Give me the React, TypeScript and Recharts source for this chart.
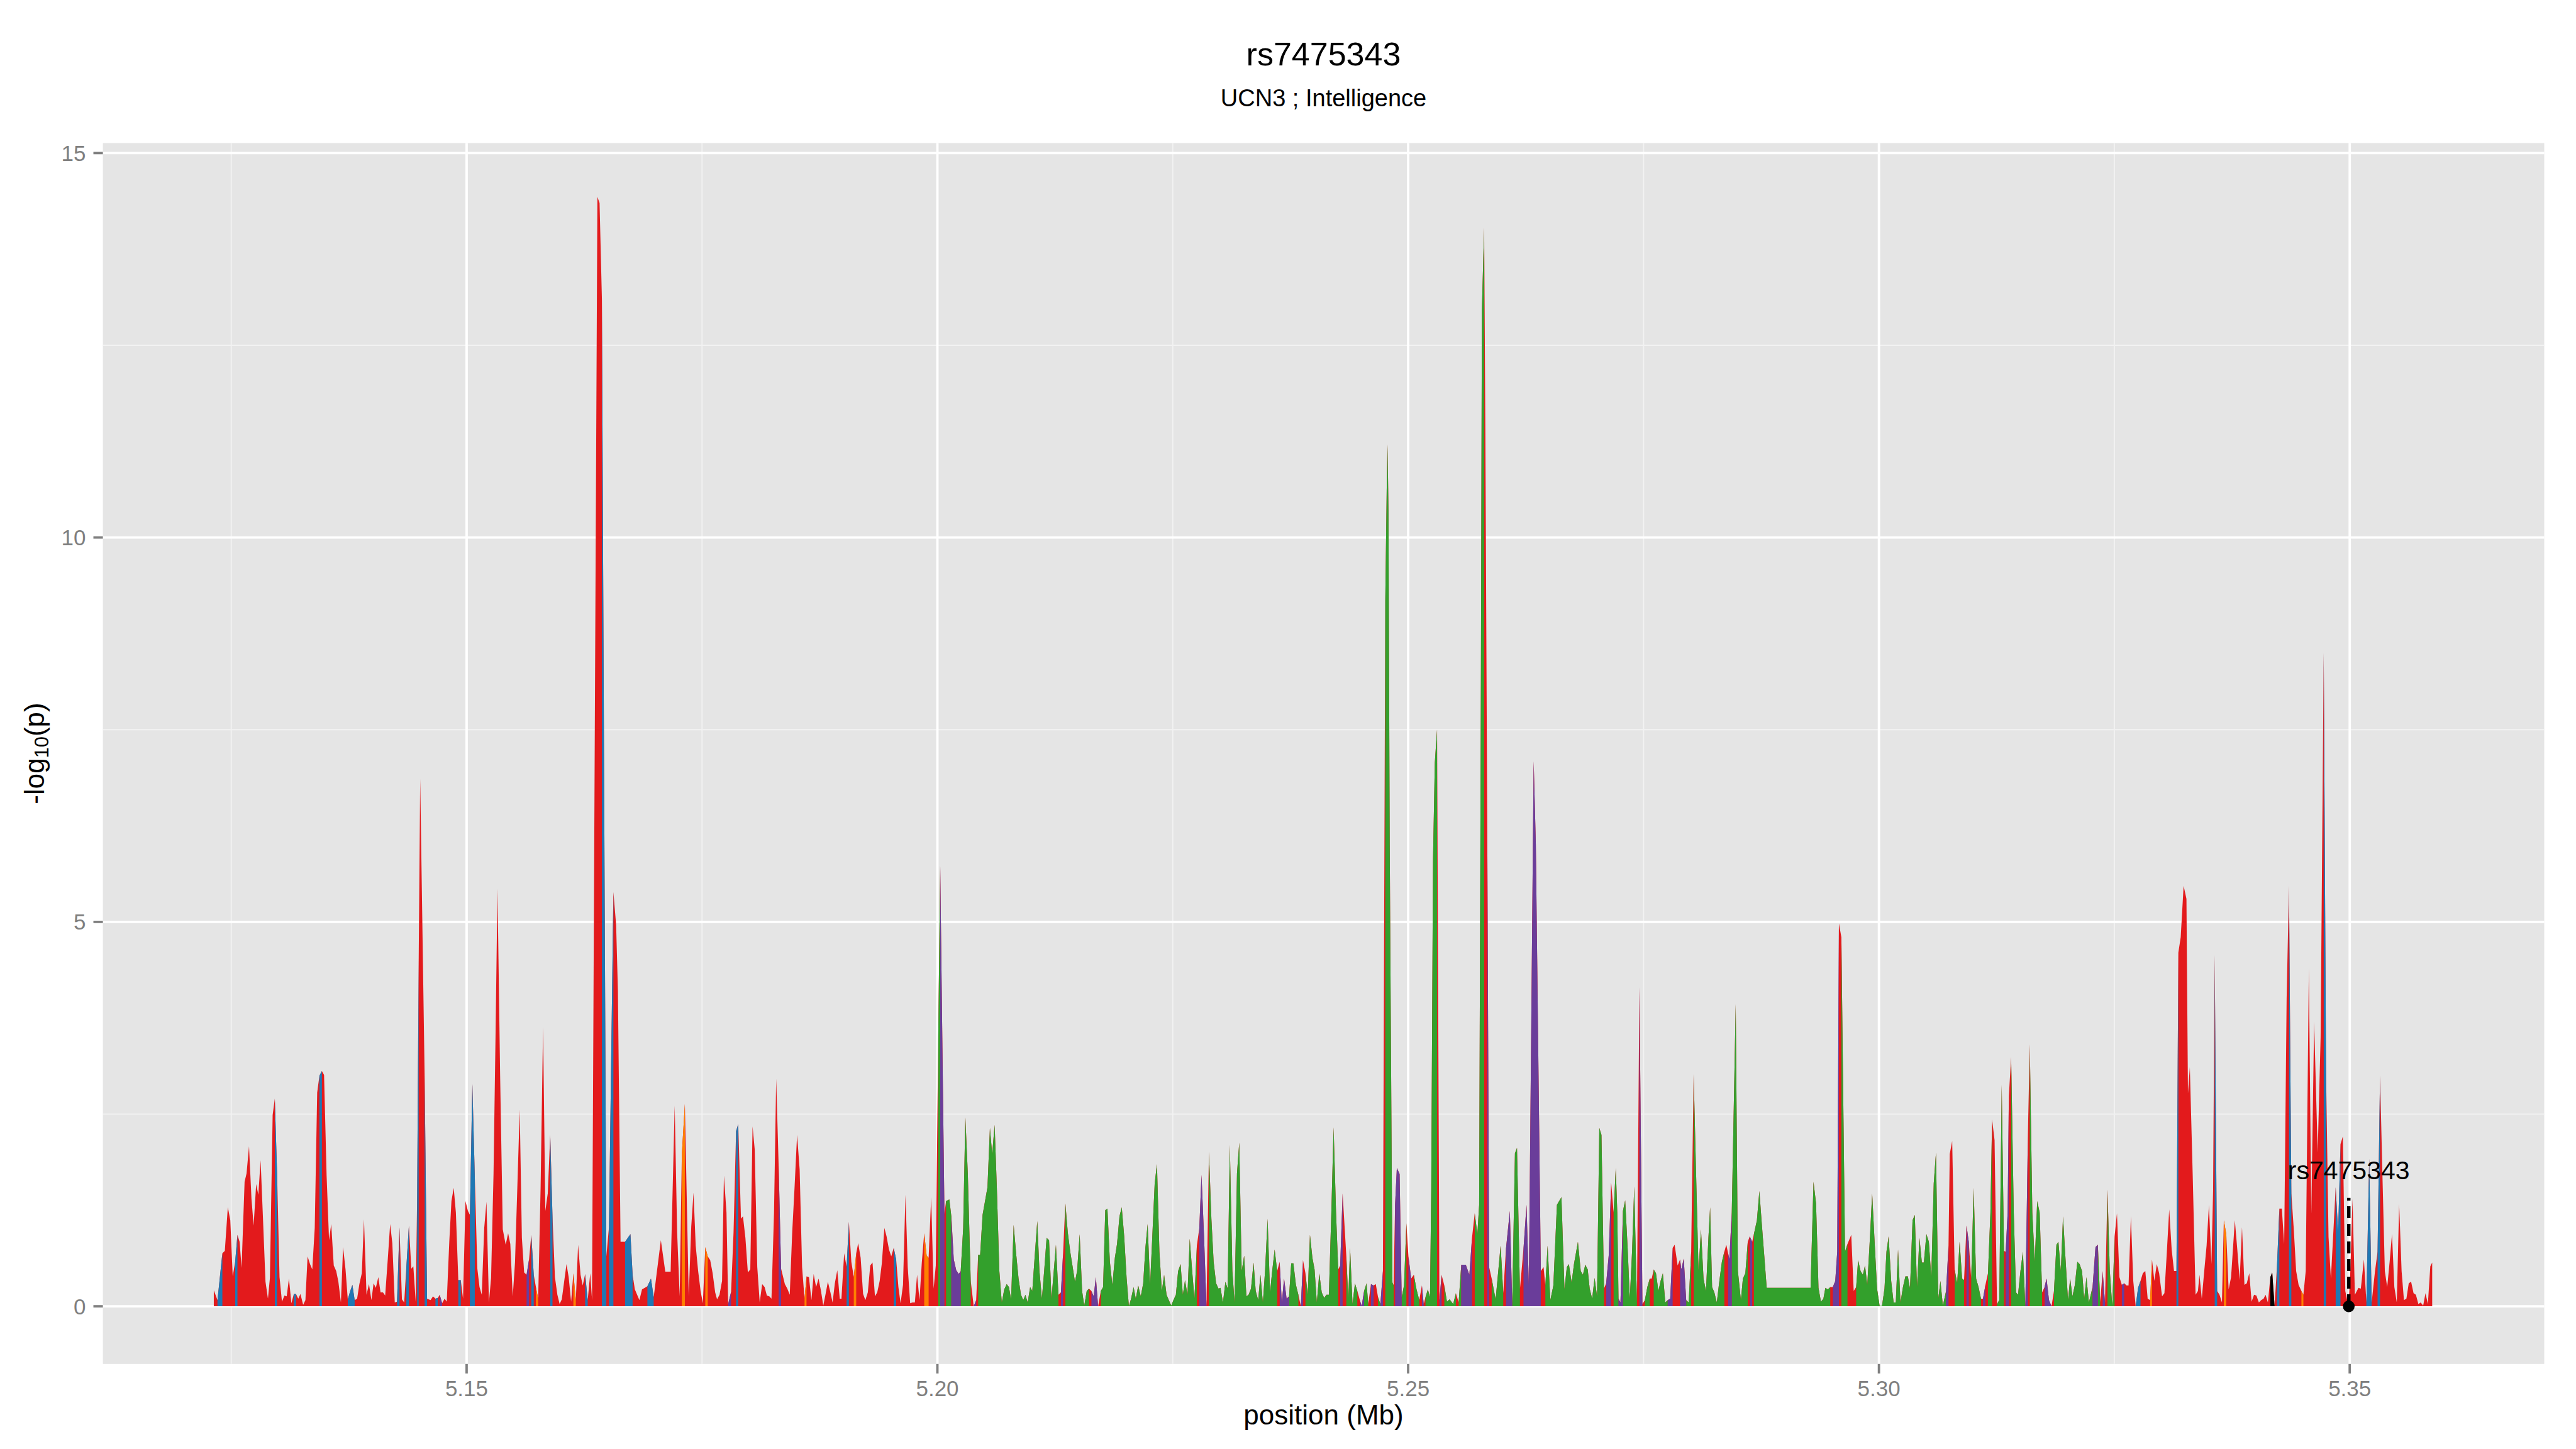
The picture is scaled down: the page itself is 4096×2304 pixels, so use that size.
import React from 'react';
import { ComposedChart, Area, XAxis, YAxis, CartesianGrid, Scatter, ReferenceLine } from 'recharts';

// [position (Mb), -log10(p), LD class]
type Snp = [number, number, string];

const snps5123to5163: Snp[] = [
[5.12315,0.21,'R'],[5.12354,0.08,'B'],[5.12406,0.69,'R'],[5.12432,0.72,'R'],[5.12464,1.29,'R'],[5.1249,1.12,'R'],[5.12516,0.39,'R'],[5.12542,0.58,'B'],[5.12566,0.93,'R'],[5.12589,0.84,'R'],
[5.1261,0.5,'R'],[5.12642,1.62,'R'],[5.12663,1.73,'R'],[5.12689,2.08,'R'],[5.12715,1.4,'R'],[5.12738,1.05,'R'],[5.12765,1.59,'R'],[5.12788,1.45,'R'],[5.12812,1.9,'R'],[5.12838,1.12,'R'],
[5.12864,0.32,'R'],[5.1289,0.1,'R'],[5.12911,0.37,'R'],[5.1294,2.49,'R'],[5.12963,2.7,'B'],[5.12987,1.73,'R'],[5.13013,0.38,'R'],[5.13039,0.06,'R'],[5.13065,0.14,'R'],[5.13089,0.13,'R'],
[5.13113,0.36,'R'],[5.13139,0.04,'R'],[5.13165,0.16,'B'],[5.13188,0.16,'R'],[5.13212,0.1,'R'],[5.13235,0.16,'R'],[5.13264,0.02,'R'],[5.13288,0.08,'R'],[5.13311,0.65,'R'],[5.13337,0.55,'R'],
[5.13361,0.48,'R'],[5.13387,1.02,'R'],[5.13413,2.78,'R'],[5.13437,3.0,'B'],[5.13463,3.06,'R'],[5.13486,3.01,'R'],[5.13513,1.7,'R'],[5.13539,0.86,'R'],[5.13562,1.07,'R'],[5.13589,0.53,'R'],
[5.13615,0.46,'R'],[5.13638,0.32,'R'],[5.13665,0.05,'R'],[5.13688,0.77,'R'],[5.13714,0.48,'R'],[5.13738,0.09,'B'],[5.13764,0.2,'B'],[5.13787,0.28,'B'],[5.13811,0.08,'R'],[5.13837,0.1,'R'],
[5.13861,0.29,'R'],[5.13887,0.43,'R'],[5.1391,1.13,'R'],[5.13937,0.15,'R'],[5.13963,0.29,'R'],[5.13989,0.08,'R'],[5.14012,0.3,'R'],[5.14036,0.24,'R'],[5.14062,0.38,'R'],[5.14086,0.18,'R'],
[5.14112,0.18,'R'],[5.14135,0.14,'R'],[5.14162,0.6,'R'],[5.14188,1.07,'R'],[5.14211,0.82,'R'],[5.14237,0.05,'R'],[5.14261,0.06,'B'],[5.14287,1.03,'R'],[5.14313,0.09,'R'],[5.14337,0.05,'R'],
[5.1436,0.51,'B'],[5.14387,1.05,'R'],[5.14413,0.49,'R'],[5.14434,0.52,'R'],[5.1446,0.05,'R'],[5.14475,1.47,'B'],[5.14491,4.5,'R'],[5.14507,6.86,'R'],[5.14554,3.0,'B'],[5.1458,0.1,'R'],
[5.14617,0.08,'R'],[5.14643,0.13,'R'],[5.14669,0.1,'B'],[5.14695,0.11,'R'],[5.14714,0.15,'P'],[5.1474,0.04,'R'],[5.14766,0.1,'R'],[5.14789,0.06,'R'],[5.14816,0.84,'R'],[5.14839,1.37,'R'],
[5.14863,1.54,'R'],[5.14886,1.22,'R'],[5.14912,0.34,'B'],[5.14938,0.34,'R'],[5.14962,0.1,'R'],[5.14988,1.37,'R'],[5.15014,1.24,'R'],[5.15035,1.19,'B'],[5.15061,2.89,'B'],[5.15087,1.68,'R'],
[5.15114,0.49,'R'],[5.15137,0.25,'R'],[5.15161,0.15,'R'],[5.15187,1.02,'R'],[5.15211,1.36,'R'],[5.15237,0.05,'R'],[5.1526,0.37,'R'],[5.15286,1.73,'R'],[5.15307,3.5,'R'],[5.15328,5.43,'R'],
[5.15356,3.0,'R'],[5.15384,1.0,'R'],[5.15415,0.8,'R'],[5.15441,0.95,'R'],[5.15464,0.81,'R'],[5.1549,0.13,'R'],[5.15514,0.57,'R'],[5.15538,1.52,'R'],[5.15564,2.56,'R'],[5.15587,0.89,'R'],
[5.15611,0.44,'R'],[5.15637,0.41,'P'],[5.15663,0.61,'R'],[5.15687,0.93,'B'],[5.15713,0.41,'R'],[5.15736,0.25,'O'],[5.1576,0.1,'R'],[5.15786,1.55,'R'],[5.15812,3.63,'R'],[5.15836,1.24,'R'],
[5.15862,1.47,'R'],[5.15888,2.23,'B'],[5.15912,1.17,'R'],[5.15938,0.38,'R'],[5.15964,0.15,'R'],[5.15988,0.03,'R'],[5.16011,0.09,'R'],[5.16037,0.33,'R'],[5.16061,0.55,'R'],[5.16084,0.38,'R'],
[5.1611,0.06,'R'],[5.16134,0.43,'O'],[5.1616,0.08,'R'],[5.16184,0.8,'R'],[5.1621,0.41,'R'],[5.16233,0.27,'R'],[5.16259,0.42,'B'],[5.16286,0.08,'R'],
];

const snps5163to5204: Snp[] = [
[5.16313,0.43,'R'],[5.16332,0.08,'R'],[5.16389,14.43,'R'],[5.16412,14.35,'R'],[5.16437,13.1,'B'],[5.16484,0.65,'R'],[5.16512,1.03,'B'],[5.16559,5.39,'R'],[5.16588,4.96,'R'],[5.16607,4.1,'R'],
[5.16635,0.84,'R'],[5.16683,0.84,'B'],[5.1674,0.94,'B'],[5.16763,0.41,'R'],[5.16787,0.22,'R'],[5.16835,0.08,'R'],[5.16863,0.22,'R'],[5.1692,0.26,'B'],[5.16958,0.36,'B'],[5.16987,0.12,'R'],
[5.17063,0.86,'R'],[5.1711,0.45,'R'],[5.17167,0.45,'R'],[5.1721,2.61,'R'],[5.17236,0.96,'R'],[5.17263,0.13,'R'],[5.17286,1.98,'O'],[5.17318,2.63,'R'],[5.17359,0.13,'R'],[5.17386,1.04,'R'],
[5.1741,1.48,'R'],[5.17433,0.79,'R'],[5.17459,0.46,'R'],[5.17485,0.2,'R'],[5.17509,0.04,'R'],[5.17535,0.77,'O'],[5.17561,0.65,'R'],[5.17587,0.6,'R'],[5.17613,0.43,'R'],[5.1764,0.18,'R'],
[5.1766,0.09,'R'],[5.17686,0.15,'R'],[5.17713,0.33,'R'],[5.17733,1.7,'R'],[5.1776,1.22,'R'],[5.17778,0.03,'P'],[5.17809,0.19,'R'],[5.17835,0.96,'R'],[5.17862,2.28,'B'],[5.17885,2.37,'R'],
[5.17914,1.14,'R'],[5.17935,1.17,'R'],[5.17961,0.89,'R'],[5.17987,0.44,'R'],[5.18013,0.48,'R'],[5.18037,2.34,'R'],[5.1806,2.04,'R'],[5.18087,0.51,'R'],[5.18113,0.05,'R'],[5.18139,0.29,'R'],
[5.18165,0.25,'R'],[5.18189,0.14,'R'],[5.18215,0.13,'R'],[5.18238,0.1,'R'],[5.18265,1.22,'R'],[5.18288,2.96,'R'],[5.18314,1.83,'P'],[5.1834,0.49,'R'],[5.1838,0.29,'R'],[5.18406,0.23,'R'],
[5.18432,0.15,'R'],[5.18458,0.96,'R'],[5.18484,1.57,'R'],[5.1851,2.23,'R'],[5.18537,1.78,'R'],[5.18563,0.51,'R'],[5.18589,0.1,'O'],[5.1861,0.39,'R'],[5.18636,0.38,'R'],[5.18662,0.08,'R'],
[5.18686,0.42,'R'],[5.18712,0.25,'R'],[5.18738,0.36,'R'],[5.18764,0.2,'R'],[5.18788,0.01,'R'],[5.18811,0.15,'R'],[5.18837,0.32,'R'],[5.18864,0.18,'R'],[5.18887,0.05,'R'],[5.18911,0.3,'R'],
[5.18937,0.47,'R'],[5.18963,0.1,'R'],[5.18981,0.1,'R'],[5.1901,0.69,'R'],[5.19036,0.51,'B'],[5.1906,1.1,'R'],[5.19086,0.58,'R'],[5.19112,0.38,'O'],[5.19138,0.69,'R'],[5.19159,0.82,'R'],
[5.19185,0.63,'R'],[5.19211,0.16,'R'],[5.19235,0.08,'R'],[5.19261,0.18,'R'],[5.19287,0.53,'R'],[5.19311,0.57,'R'],[5.19337,0.13,'R'],[5.19361,0.18,'R'],[5.19387,0.33,'R'],[5.1941,0.56,'R'],
[5.19437,1.02,'R'],[5.1946,0.91,'R'],[5.19486,0.74,'R'],[5.1951,0.65,'R'],[5.19536,0.76,'B'],[5.19562,0.61,'R'],[5.19586,0.25,'R'],[5.19609,0.04,'R'],[5.19635,0.28,'R'],[5.19661,1.45,'R'],
[5.19685,0.51,'R'],[5.19711,0.04,'R'],[5.19735,0.05,'R'],[5.19761,0.05,'R'],[5.19784,0.41,'R'],[5.1981,0.08,'R'],[5.19834,0.56,'R'],[5.1986,0.95,'O'],[5.19886,0.66,'O'],[5.19907,0.63,'R'],
[5.19934,1.42,'R'],[5.1996,0.23,'R'],[5.19983,0.53,'R'],[5.20009,3.5,'G'],[5.2003,5.73,'P'],[5.20075,1.2,'R'],[5.20092,1.37,'G'],[5.20127,1.39,'G'],[5.20148,1.17,'P'],[5.20174,0.61,'P'],
[5.202,0.47,'P'],[5.20227,0.42,'P'],[5.20248,0.46,'G'],[5.20274,1.02,'G'],[5.20297,2.46,'G'],[5.20323,1.73,'G'],[5.20354,0.33,'R'],[5.20386,0.0,'P'],[5.20412,0.08,'R'],
];

const snps5204to5246: Snp[] = [
[5.20433,0.67,'G'],[5.20454,0.67,'G'],[5.2048,1.19,'G'],[5.20506,1.37,'G'],[5.20532,1.55,'G'],[5.20558,2.32,'G'],[5.20582,1.98,'G'],[5.20608,2.36,'G'],[5.20632,1.52,'G'],[5.20658,0.46,'G'],
[5.20684,0.05,'G'],[5.2071,0.22,'G'],[5.20736,0.29,'G'],[5.2076,0.25,'G'],[5.20783,0.09,'G'],[5.2081,1.06,'G'],[5.20836,0.69,'G'],[5.20862,0.36,'G'],[5.20888,0.15,'G'],[5.20912,0.08,'G'],
[5.20935,0.15,'G'],[5.20959,0.05,'G'],[5.20985,0.25,'G'],[5.21008,0.2,'G'],[5.21034,0.66,'G'],[5.21061,1.11,'G'],[5.21084,0.46,'G'],[5.2111,0.1,'G'],[5.21134,0.46,'G'],[5.2116,0.89,'G'],
[5.21186,0.86,'G'],[5.21212,0.1,'G'],[5.21236,0.46,'G'],[5.21259,0.8,'G'],[5.21286,0.15,'R'],[5.21312,0.18,'P'],[5.21335,0.69,'R'],[5.21359,1.34,'G'],[5.21385,0.96,'G'],[5.21411,0.71,'G'],
[5.21437,0.51,'G'],[5.21461,0.32,'G'],[5.21484,0.46,'G'],[5.21511,0.94,'G'],[5.21537,0.2,'G'],[5.2156,0.01,'G'],[5.21586,0.2,'G'],[5.2161,0.23,'R'],[5.21636,0.2,'P'],[5.2166,0.13,'P'],
[5.21683,0.38,'P'],[5.21707,0.0,'R'],[5.21736,0.2,'G'],[5.2176,0.25,'G'],[5.21783,1.25,'G'],[5.21806,1.27,'G'],[5.21832,0.58,'G'],[5.21858,0.28,'G'],[5.21885,0.63,'G'],[5.21908,0.81,'G'],
[5.21934,1.17,'G'],[5.21958,1.29,'G'],[5.21984,0.91,'G'],[5.2201,0.36,'G'],[5.22034,0.0,'G'],[5.22057,0.1,'G'],[5.22084,0.25,'G'],[5.22107,0.1,'G'],[5.22133,0.27,'G'],[5.2216,0.13,'G'],
[5.22186,0.3,'G'],[5.22209,0.76,'G'],[5.22233,1.07,'G'],[5.22259,0.28,'G'],[5.22282,0.89,'G'],[5.22308,1.6,'G'],[5.22332,1.85,'G'],[5.22358,0.71,'G'],[5.22384,0.2,'G'],[5.22408,0.41,'G'],
[5.22434,0.15,'G'],[5.22458,0.08,'G'],[5.22484,0.01,'G'],[5.22507,0.08,'G'],[5.22533,0.15,'G'],[5.22557,0.46,'G'],[5.22583,0.55,'G'],[5.22607,0.15,'G'],[5.2263,0.34,'G'],[5.22656,0.15,'G'],
[5.2268,0.88,'G'],[5.22706,0.46,'G'],[5.2273,0.1,'G'],[5.22756,0.79,'R'],[5.22782,1.02,'P'],[5.22805,1.71,'P'],[5.22832,0.91,'P'],[5.22858,0.0,'R'],[5.22884,2.01,'G'],[5.2291,1.14,'G'],
[5.22934,0.58,'G'],[5.2296,0.3,'G'],[5.22986,0.23,'G'],[5.23007,0.24,'G'],[5.23033,0.05,'G'],[5.23059,0.32,'G'],[5.23083,0.23,'G'],[5.23106,2.1,'G'],[5.23133,0.46,'G'],[5.23156,0.05,'G'],
[5.23182,1.73,'G'],[5.23206,2.13,'G'],[5.23232,0.46,'G'],[5.23258,0.66,'G'],[5.23282,0.13,'G'],[5.23305,0.15,'G'],[5.23331,0.23,'G'],[5.23358,0.57,'G'],[5.23381,0.2,'G'],[5.23407,0.08,'G'],
[5.23431,0.41,'G'],[5.23457,0.05,'G'],[5.2348,0.46,'G'],[5.23507,1.14,'G'],[5.23533,0.18,'G'],[5.23556,0.46,'G'],[5.23582,0.74,'G'],[5.23609,0.46,'R'],[5.23635,0.58,'P'],[5.23658,0.05,'P'],
[5.23682,0.36,'P'],[5.23709,0.1,'P'],[5.23735,0.13,'G'],[5.23758,0.56,'G'],[5.23781,0.56,'G'],[5.23808,0.28,'G'],[5.23834,0.15,'R'],[5.2386,0.0,'P'],[5.23883,0.6,'R'],[5.23909,0.43,'G'],
[5.23933,0.15,'G'],[5.23957,0.93,'G'],[5.23983,0.63,'G'],[5.24006,0.48,'G'],[5.2403,0.05,'G'],[5.24056,0.43,'G'],[5.24082,0.18,'G'],[5.24108,0.11,'G'],[5.24132,0.15,'G'],[5.24158,0.15,'G'],
[5.24184,1.22,'G'],[5.24208,2.33,'G'],[5.24234,1.22,'G'],[5.24257,0.48,'R'],[5.24278,0.53,'P'],[5.24304,1.47,'R'],[5.24343,0.66,'G'],[5.24364,0.1,'G'],[5.24383,0.76,'G'],[5.24409,0.03,'G'],
[5.24435,0.3,'G'],[5.2446,0.2,'R'],[5.24487,0.08,'P'],[5.24506,0.0,'P'],[5.24532,0.2,'G'],[5.24558,0.3,'G'],
];

const snps5246to5269: Snp[] = [
[5.24576,0.03,'R'],[5.24605,0.29,'P'],[5.24633,0.27,'R'],[5.24656,0.29,'R'],[5.2468,0.12,'G'],[5.24705,0.03,'P'],[5.24732,0.46,'R'],[5.24757,9.18,'G'],[5.24772,10.61,'G'],[5.24781,11.21,'G'],
[5.24791,10.33,'G'],[5.24804,6.01,'G'],[5.24817,3.43,'G'],[5.24833,0.31,'G'],[5.24846,0.27,'R'],[5.24861,1.32,'P'],[5.2488,1.8,'P'],[5.24909,1.72,'P'],[5.24931,0.12,'G'],[5.24956,0.27,'G'],
[5.24981,1.08,'R'],[5.25003,0.65,'P'],[5.25032,0.36,'R'],[5.2506,0.41,'G'],[5.25089,0.22,'G'],[5.25118,0.08,'R'],[5.25146,0.27,'P'],[5.25165,0.03,'R'],[5.25184,0.12,'G'],[5.25209,0.22,'G'],
[5.25232,0.12,'G'],[5.25245,1.51,'G'],[5.25264,5.82,'G'],[5.25283,7.07,'G'],[5.25307,7.5,'R'],[5.25332,0.08,'P'],[5.25355,0.41,'R'],[5.25384,0.27,'G'],[5.25412,0.06,'G'],[5.2544,0.09,'G'],
[5.25478,0.03,'G'],[5.25507,0.17,'R'],[5.25536,0.05,'G'],[5.25564,0.54,'P'],[5.25612,0.54,'P'],[5.2565,0.41,'P'],[5.25678,0.89,'R'],[5.25707,1.21,'G'],[5.25735,0.94,'G'],[5.25754,1.32,'G'],
[5.25773,8.31,'G'],[5.25783,12.96,'G'],[5.25807,14.03,'R'],[5.2582,11.38,'R'],[5.25839,6.49,'P'],[5.2586,0.51,'R'],[5.25887,0.36,'G'],[5.25929,0.09,'G'],[5.25982,0.79,'G'],[5.2601,0.17,'R'],
[5.26039,0.75,'P'],[5.2608,1.24,'P'],[5.26105,0.03,'G'],[5.26134,1.99,'G'],[5.26156,2.06,'G'],[5.26187,0.22,'R'],[5.26225,0.75,'P'],[5.26257,1.32,'P'],[5.26282,0.27,'P'],[5.26333,7.09,'P'],
[5.26356,6.01,'P'],[5.26409,0.46,'R'],[5.26438,0.51,'R'],[5.26457,0.27,'G'],[5.26481,0.79,'G'],[5.2651,0.08,'G'],[5.26542,0.27,'G'],[5.2658,1.32,'G'],[5.26628,1.42,'G'],[5.2666,0.22,'G'],
[5.26685,0.51,'G'],[5.26707,0.55,'G'],[5.26736,0.31,'G'],[5.26761,0.55,'G'],[5.26803,0.84,'G'],[5.26833,0.46,'G'],[5.26856,0.41,'G'],
];

const snps5269to5283: Snp[] = [
[5.26881,0.54,'G'],[5.26907,0.48,'G'],[5.26928,0.23,'G'],[5.26954,0.1,'G'],[5.2698,0.37,'G'],[5.27006,0.13,'G'],[5.2703,2.32,'G'],[5.27053,2.23,'G'],[5.2708,0.23,'R'],[5.27103,0.3,'P'],
[5.2713,0.66,'P'],[5.27156,1.61,'R'],[5.27182,1.22,'G'],[5.27205,1.8,'G'],[5.27221,1.22,'G'],[5.27234,0.1,'P'],[5.27255,0.05,'P'],[5.27281,1.24,'G'],[5.27305,1.38,'G'],[5.27331,0.76,'G'],
[5.27354,0.1,'G'],[5.27378,0.71,'G'],[5.27401,1.56,'G'],[5.2743,0.05,'R'],[5.27456,4.15,'P'],[5.27488,0.03,'R'],[5.27514,0.08,'G'],[5.2754,0.25,'G'],[5.27566,0.36,'R'],[5.27587,0.36,'R'],
[5.27608,0.48,'G'],[5.27632,0.43,'G'],[5.27658,0.2,'G'],[5.27681,0.33,'G'],[5.27705,0.43,'G'],[5.27731,0.05,'G'],[5.27757,0.08,'P'],[5.27783,0.1,'P'],[5.27809,0.76,'R'],[5.2783,0.8,'R'],
[5.27862,0.53,'R'],[5.27888,0.61,'P'],[5.27901,0.48,'P'],[5.27927,0.62,'P'],[5.27953,0.08,'G'],[5.27979,0.05,'G'],[5.28006,0.71,'R'],[5.28032,3.02,'G'],[5.28058,1.73,'G'],[5.28084,0.46,'G'],
[5.2811,1.0,'G'],[5.28137,0.36,'G'],[5.28163,0.2,'G'],[5.28189,0.89,'G'],[5.28207,1.29,'G'],[5.28228,0.25,'G'],[5.28252,0.18,'G'],[5.28278,0.05,'G'],[5.28302,0.3,'G'],
];

const snps5283to5323: Snp[] = [
[5.28332,0.58,'G'],[5.28358,0.71,'R'],[5.28379,0.8,'R'],[5.28398,0.69,'P'],[5.28411,0.61,'P'],[5.28437,1.22,'G'],[5.28479,3.93,'G'],[5.28502,0.46,'G'],[5.28534,0.08,'G'],[5.28555,0.36,'G'],
[5.28581,0.43,'G'],[5.28607,0.84,'R'],[5.28628,0.91,'P'],[5.28654,0.84,'R'],[5.28672,0.94,'G'],[5.28704,1.12,'G'],[5.2873,1.5,'G'],[5.28756,1.07,'G'],[5.28782,0.66,'G'],[5.28808,0.24,'G'],
[5.29274,0.24,'G'],[5.29305,1.62,'G'],[5.29332,1.34,'G'],[5.29358,0.24,'G'],[5.29384,0.06,'G'],[5.2941,0.1,'G'],[5.29431,0.24,'G'],[5.29457,0.22,'G'],[5.29483,0.25,'R'],[5.2951,0.25,'P'],
[5.29536,0.33,'P'],[5.29557,0.71,'P'],[5.29575,4.98,'R'],[5.29601,4.8,'G'],[5.2964,0.71,'G'],[5.29666,0.81,'R'],[5.29706,0.93,'R'],[5.29732,0.2,'R'],[5.29758,0.25,'G'],[5.29779,0.6,'G'],
[5.29805,0.46,'G'],[5.29829,0.41,'G'],[5.29852,0.53,'G'],[5.29876,0.28,'G'],[5.29902,0.84,'G'],[5.29928,1.47,'G'],[5.29954,0.84,'G'],[5.2998,0.23,'G'],[5.30007,0.01,'G'],[5.30033,0.01,'G'],
[5.30059,0.23,'G'],[5.3008,0.71,'G'],[5.30103,0.91,'G'],[5.3013,0.33,'G'],[5.30156,0.05,'G'],[5.30179,0.05,'G'],[5.30203,0.74,'G'],[5.30229,0.05,'G'],[5.30255,0.25,'G'],[5.30281,0.39,'G'],
[5.30307,0.39,'G'],[5.3033,0.23,'G'],[5.30357,1.12,'G'],[5.30381,1.19,'G'],[5.30404,0.25,'G'],[5.3043,0.89,'G'],[5.30456,0.57,'G'],[5.30477,0.57,'G'],[5.30504,0.94,'G'],[5.3053,0.84,'G'],
[5.30556,0.38,'G'],[5.30582,1.6,'G'],[5.30606,2.0,'G'],[5.3063,0.1,'G'],[5.30653,0.33,'G'],[5.30679,0.01,'G'],[5.30713,0.2,'P'],[5.30739,0.79,'R'],[5.30752,1.98,'R'],[5.30778,2.15,'R'],
[5.30804,0.48,'G'],[5.30831,0.3,'G'],[5.30857,0.84,'G'],[5.30883,0.36,'G'],[5.30904,0.34,'R'],[5.3093,1.05,'P'],[5.30954,0.84,'R'],[5.3098,0.36,'G'],[5.31006,1.54,'G'],[5.31032,0.36,'G'],
[5.31058,0.25,'G'],[5.31084,0.1,'R'],[5.31105,0.1,'P'],[5.31131,0.28,'R'],[5.31158,0.43,'G'],[5.31184,1.22,'G'],[5.31202,2.43,'R'],[5.31228,2.16,'R'],[5.31254,0.03,'G'],[5.31278,0.08,'G'],
[5.31304,2.88,'G'],[5.31328,0.72,'R'],[5.31346,0.71,'P'],[5.31367,1.22,'P'],[5.3138,2.74,'R'],[5.31404,3.24,'G'],[5.31432,1.22,'G'],[5.31456,0.18,'G'],[5.31477,0.15,'G'],[5.31503,0.46,'G'],
[5.31529,0.71,'G'],[5.31555,0.0,'P'],[5.31582,2.23,'R'],[5.31602,3.41,'G'],[5.31629,1.22,'G'],[5.31655,0.58,'G'],[5.31681,1.37,'G'],[5.31707,1.22,'G'],[5.31733,0.18,'R'],[5.31759,0.25,'P'],
[5.3178,0.36,'P'],[5.31806,0.08,'P'],[5.31833,0.0,'R'],[5.31859,0.2,'G'],[5.31885,0.8,'G'],[5.31906,0.84,'G'],[5.31932,0.46,'G'],[5.31955,1.17,'G'],[5.31982,0.61,'G'],[5.32008,0.08,'G'],
[5.32031,0.36,'G'],[5.32055,0.13,'G'],[5.32081,0.28,'G'],[5.32107,0.58,'G'],[5.32131,0.55,'G'],[5.32157,0.46,'G'],[5.3218,0.1,'G'],[5.32204,0.38,'G'],[5.3223,0.05,'G'],
];

const snps5323to5359: Snp[] = [
[5.32269,0.25,'P'],[5.323,0.77,'P'],[5.32325,0.8,'G'],[5.3235,0.05,'R'],[5.32376,0.46,'P'],[5.32401,0.05,'R'],[5.32427,1.52,'G'],[5.32452,0.46,'G'],[5.32478,0.0,'G'],[5.32503,0.91,'R'],
[5.32528,1.21,'R'],[5.32554,0.38,'R'],[5.3258,0.28,'P'],[5.32605,0.3,'R'],[5.3263,0.27,'R'],[5.32651,0.27,'R'],[5.32676,1.17,'R'],[5.32701,0.33,'R'],[5.32727,0.0,'B'],[5.32752,0.24,'B'],
[5.32778,0.33,'R'],[5.32803,0.43,'R'],[5.32829,0.46,'R'],[5.32854,0.1,'R'],[5.3288,0.08,'O'],[5.329,0.61,'R'],[5.32925,0.33,'R'],[5.32951,0.55,'R'],[5.32976,0.43,'R'],[5.33007,0.13,'R'],
[5.33032,0.17,'R'],[5.33058,0.71,'R'],[5.33083,1.26,'R'],[5.33109,0.74,'R'],[5.33134,0.46,'R'],[5.3316,0.46,'B'],[5.3318,4.6,'R'],[5.33205,4.8,'R'],[5.33236,5.47,'R'],[5.33266,5.3,'R'],
[5.33282,2.77,'R'],[5.33302,3.11,'R'],[5.33332,1.73,'R'],[5.33363,0.15,'R'],[5.33388,0.2,'R'],[5.33404,0.41,'R'],[5.33429,0.1,'R'],[5.33455,0.46,'R'],[5.3348,0.79,'R'],[5.33505,1.32,'R'],
[5.33531,0.55,'R'],[5.33549,1.5,'R'],[5.33566,4.57,'B'],[5.33592,0.2,'R'],[5.33617,0.15,'R'],[5.33643,0.05,'R'],[5.33663,1.12,'O'],[5.33689,0.94,'R'],[5.33714,0.22,'R'],[5.3374,0.38,'R'],
[5.3378,1.12,'R'],[5.33806,0.74,'R'],[5.33831,0.34,'R'],[5.33856,1.03,'R'],[5.33882,0.28,'R'],[5.33907,0.3,'R'],[5.33933,0.43,'R'],[5.33958,0.06,'R'],[5.33984,0.15,'R'],[5.34009,0.14,'R'],
[5.34035,0.05,'R'],[5.3406,0.08,'R'],[5.34085,0.1,'R'],[5.34106,0.15,'R'],[5.34131,0.05,'R'],[5.34157,0.38,'K'],[5.34177,0.44,'K'],[5.34202,0.0,'R'],[5.34228,0.53,'B'],[5.34253,1.27,'R'],
[5.34279,1.27,'R'],[5.34304,0.81,'R'],[5.3433,4.0,'R'],[5.34355,5.47,'B'],[5.3438,1.47,'R'],[5.34406,1.0,'R'],[5.34431,0.46,'R'],[5.34457,0.28,'R'],[5.34487,0.2,'O'],[5.34508,0.15,'R'],
[5.34533,0.46,'R'],[5.34566,4.4,'R'],[5.34592,1.2,'R'],[5.34622,3.7,'R'],[5.3466,2.0,'R'],[5.34691,3.5,'R'],[5.34724,8.5,'B'],[5.34749,3.0,'R'],[5.34775,0.9,'R'],[5.348,0.36,'R'],
[5.34826,0.96,'R'],[5.34851,1.55,'B'],[5.34877,0.96,'B'],[5.34902,2.11,'R'],[5.34927,2.21,'R'],[5.34953,0.2,'R'],[5.34986,0.0,'R'],[5.35004,0.36,'R'],[5.3503,1.4,'R'],[5.35055,0.15,'R'],
[5.35093,0.24,'R'],[5.35118,0.23,'R'],[5.35151,0.61,'R'],[5.35177,0.05,'B'],[5.35207,1.92,'B'],[5.35233,0.05,'R'],[5.35269,0.46,'R'],[5.35296,0.71,'B'],[5.35322,3.0,'R'],[5.35347,1.73,'R'],
[5.35373,0.46,'R'],[5.35398,0.25,'R'],[5.35424,0.58,'R'],[5.35449,0.94,'R'],[5.35474,0.25,'R'],[5.355,0.05,'R'],[5.35525,1.33,'R'],[5.35551,0.46,'R'],[5.35576,0.08,'R'],[5.35602,0.1,'R'],
[5.35627,0.3,'R'],[5.35652,0.32,'R'],[5.35678,0.17,'R'],[5.35703,0.15,'R'],[5.35729,0.03,'R'],[5.35754,0.05,'R'],[5.3578,0.01,'R'],[5.35805,0.17,'R'],[5.3583,0.03,'R'],[5.35856,0.52,'R'],
[5.35876,0.57,'R'],
];

const leadSnpId = 'rs7475343';
const leadSnpPos = 5.3499;
const leadSnpLogP = 0;
const leadLineTop = 1.41;
const leadLabelBaseline = 1.65;

const chartTitle = 'rs7475343';
const chartSubtitle = 'UCN3 ; Intelligence';
const xAxisTitle = 'position (Mb)';

const xTicks = [5.15, 5.2, 5.25, 5.3, 5.35];
const xMinorTicks = [5.125, 5.175, 5.225, 5.275, 5.325];
const yTicks = [0, 5, 10, 15];
const yMinorTicks = [2.5, 7.5, 12.5];
const xDomain: [number, number] = [5.11137, 5.37066];
const yDomain: [number, number] = [-0.75, 15.13];

const ldPalette: Record<string, string> = {
  R: '#E31A1C', B: '#1F78B4', G: '#33A02C', P: '#6A3D9A', O: '#FF7F00', K: '#000000',
};
const overlayCodes = ['G', 'P', 'B', 'O', 'K'];

const allSnps: Snp[] = [
  ...snps5123to5163, ...snps5163to5204, ...snps5204to5246, ...snps5246to5269,
  ...snps5269to5283, ...snps5283to5323, ...snps5323to5359,
].sort((a, b) => a[0] - b[0]);

// Each segment between SNP i and SNP i+1 takes the LD class of SNP i.
const chartRows: Record<string, number | null>[] = [];
allSnps.forEach((s, i) => {
  const [pos, logp, ld] = s;
  if (i > 0) {
    const prevLd = allSnps[i - 1][2];
    const endRow: Record<string, number | null> = { pos, logp };
    overlayCodes.forEach((c) => { endRow[c] = prevLd === c ? logp : null; });
    chartRows.push(endRow);
  }
  const startRow: Record<string, number | null> = { pos, logp };
  overlayCodes.forEach((c) => { startRow[c] = ld === c ? logp : null; });
  chartRows.push(startRow);
});

const FONT = '"Liberation Sans", Arial, Helvetica, sans-serif';
const W = 4096;
const H = 2304;

const textBase: React.CSSProperties = {
  position: 'absolute',
  transform: 'translate(-50%, -50%)',
  whiteSpace: 'nowrap',
  lineHeight: 1,
  fontFamily: FONT,
  color: '#000',
};

export default function App() {
  return (
    <div style={{ position: 'absolute', left: 0, top: 0, width: W, height: H, background: '#FFFFFF', fontFamily: FONT }}>
      <ComposedChart
        width={W}
        height={H}
        data={chartRows}
        margin={{ top: 227.5, right: 50.5, bottom: 75.2, left: 63.6 }}
        style={{ fontFamily: FONT }}
      >
        <CartesianGrid
          fill="#E5E5E5"
          fillOpacity={1}
          stroke="#F2F2F2"
          strokeWidth={1.9}
          horizontalValues={yMinorTicks}
          verticalValues={xMinorTicks}
        />
        <CartesianGrid
          stroke="#FFFFFF"
          strokeWidth={3.8}
          horizontalValues={yTicks}
          verticalValues={xTicks}
        />
        <XAxis
          type="number"
          dataKey="pos"
          domain={xDomain}
          allowDataOverflow
          ticks={xTicks}
          interval={0}
          tickFormatter={(v: number) => v.toFixed(2)}
          axisLine={false}
          tickLine={{ stroke: '#7F7F7F', strokeWidth: 3.8 }}
          tickSize={15.1}
          tickMargin={11.6}
          height={60}
          tick={{ fill: '#7F7F7F', fontSize: 35, fontFamily: FONT }}
        />
        <YAxis
          type="number"
          domain={yDomain}
          allowDataOverflow
          ticks={yTicks}
          interval={0}
          axisLine={false}
          tickLine={{ stroke: '#7F7F7F', strokeWidth: 3.8 }}
          tickSize={15.1}
          tickMargin={12}
          width={100}
          tick={{ fill: '#7F7F7F', fontSize: 35, fontFamily: FONT }}
        />
        <Area
          type="linear"
          dataKey="logp"
          fill={ldPalette.R}
          fillOpacity={1}
          stroke="none"
          dot={false}
          activeDot={false}
          isAnimationActive={false}
        />
        {overlayCodes.map((c) => (
          <Area
            key={c}
            type="linear"
            dataKey={c}
            fill={ldPalette[c]}
            fillOpacity={1}
            stroke="none"
            connectNulls={false}
            dot={false}
            activeDot={false}
            isAnimationActive={false}
          />
        ))}
        <ReferenceLine
          segment={[{ x: leadSnpPos, y: leadSnpLogP }, { x: leadSnpPos, y: leadLineTop }]}
          stroke="#000000"
          strokeWidth={5.5}
          strokeDasharray="19 9"
        />
        <Scatter
          data={[{ pos: leadSnpPos, logp: leadSnpLogP }]}
          dataKey="logp"
          isAnimationActive={false}
          shape={(p: any) => <circle cx={p.cx} cy={p.cy} r={9.3} fill="#000000" />}
        />
        <Scatter
          data={[{ pos: leadSnpPos, logp: leadLabelBaseline }]}
          dataKey="logp"
          isAnimationActive={false}
          shape={(p: any) => (
            <text x={p.cx} y={p.cy} textAnchor="middle" fontSize={41} fontFamily={FONT} fill="#000000">
              {leadSnpId}
            </text>
          )}
        />
      </ComposedChart>
      <div style={{ ...textBase, left: 2104.5, top: 86, fontSize: 52 }}>{chartTitle}</div>
      <div style={{ ...textBase, left: 2104.5, top: 156, fontSize: 38 }}>{chartSubtitle}</div>
      <div style={{ ...textBase, left: 2104.5, top: 2250, fontSize: 44 }}>{xAxisTitle}</div>
      <div style={{ ...textBase, left: 58, top: 1198, fontSize: 44, transform: 'translate(-50%, -50%) rotate(-90deg)' }}>
        -log<sub style={{ fontSize: '0.7em', verticalAlign: '-0.25em', lineHeight: 1 }}>10</sub>(p)
      </div>
    </div>
  );
}
